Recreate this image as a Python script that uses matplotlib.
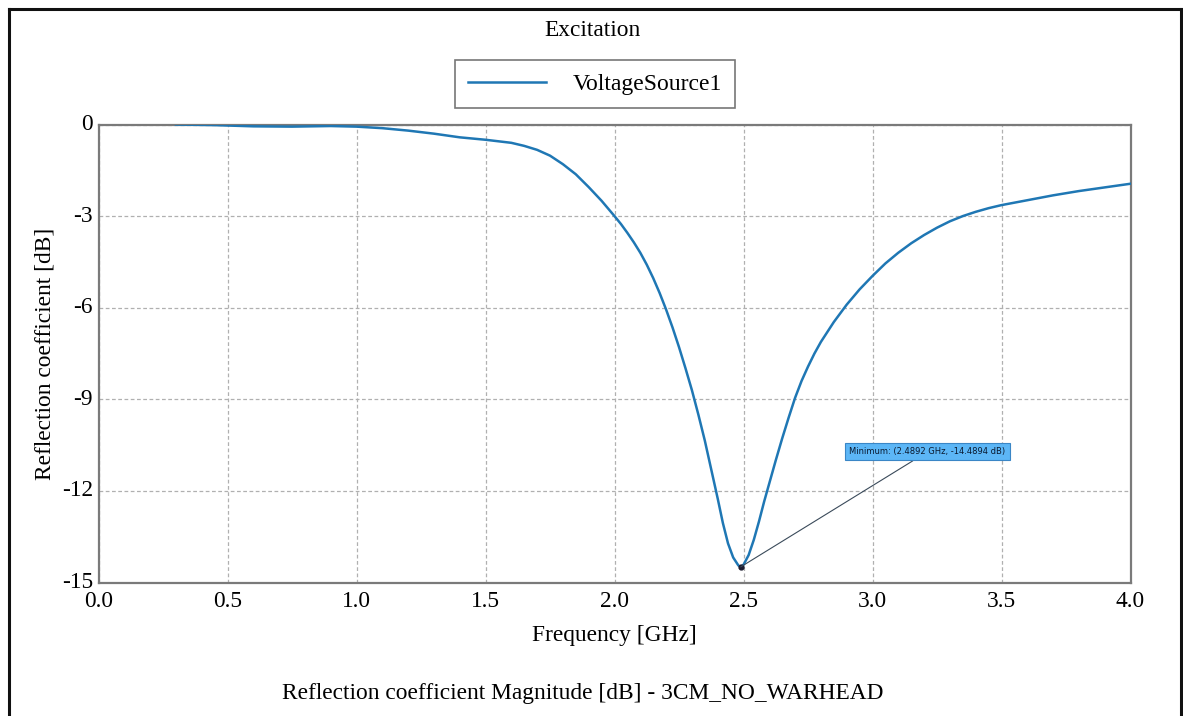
import matplotlib
matplotlib.use("Agg")
import matplotlib.pyplot as plt

# Reflection coefficient of VoltageSource1 (frequency in GHz, magnitude in dB)
freq_ghz = [0.30, 0.45, 0.60, 0.75, 0.90, 1.00, 1.10, 1.20, 1.30, 1.40,
            1.50, 1.60, 1.65, 1.70, 1.75, 1.80, 1.85, 1.90, 1.95, 2.00,
            2.025, 2.05, 2.075, 2.10, 2.125, 2.15, 2.175, 2.20, 2.225, 2.25,
            2.275, 2.30, 2.325, 2.35, 2.375, 2.40, 2.42, 2.44, 2.46, 2.48,
            2.4892, 2.50, 2.52, 2.54, 2.56, 2.58, 2.60, 2.625, 2.65, 2.675,
            2.70, 2.725, 2.75, 2.775, 2.80, 2.85, 2.90, 2.95, 3.00, 3.05,
            3.10, 3.15, 3.20, 3.25, 3.30, 3.35, 3.40, 3.45, 3.50, 3.60,
            3.70, 3.80, 3.90, 4.00]
s11_db = [0.00, -0.02, -0.06, -0.07, -0.05, -0.07, -0.12, -0.20, -0.30, -0.42,
          -0.50, -0.60, -0.70, -0.83, -1.02, -1.30, -1.63, -2.05, -2.50, -3.00,
          -3.26, -3.55, -3.86, -4.20, -4.59, -5.03, -5.52, -6.06, -6.65, -7.29,
          -7.98, -8.70, -9.50, -10.35, -11.30, -12.25, -13.05, -13.72, -14.18, -14.44,
          -14.4894, -14.42, -14.10, -13.60, -13.00, -12.35, -11.75, -11.00, -10.28, -9.60,
          -8.95, -8.40, -7.93, -7.50, -7.12, -6.47, -5.90, -5.40, -4.96, -4.55,
          -4.20, -3.89, -3.62, -3.38, -3.17, -3.00, -2.86, -2.74, -2.64, -2.48,
          -2.32, -2.18, -2.06, -1.94]

min_freq = 2.4892
min_db = -14.4894

x_ticks = [0.0, 0.5, 1.0, 1.5, 2.0, 2.5, 3.0, 3.5, 4.0]
x_tick_labels = ["0.0", "0.5", "1.0", "1.5", "2.0", "2.5", "3.0", "3.5", "4.0"]
y_ticks = [0, -3, -6, -9, -12, -15]
y_tick_labels = ["0", "-3", "-6", "-9", "-12", "-15"]

serif = "Liberation Serif"
fs = 16.8
line_color = "#1f77b4"
W, H = 1183, 716

fig = plt.figure(figsize=(W / 100, H / 100), dpi=100)
fig.patch.set_facecolor("white")

# outer frame (open at the bottom)
fx0, fx1, fy0 = 9 / W, 1181 / W, 1 - 9 / H
for xs, ys in (([fx0, fx1], [fy0, fy0]), ([fx0, fx0], [0, fy0]),
               ([fx1, fx1], [0, fy0])):
    fig.add_artist(plt.Line2D(xs, ys, color="#111111", lw=2.2,
                              transform=fig.transFigure))

# plotting area
ax_l, ax_r, ax_t, ax_b = 98.5, 1130.5, 124.5, 582.5
ax = fig.add_axes([ax_l / W, 1 - ax_b / H, (ax_r - ax_l) / W, (ax_b - ax_t) / H])
ax.set_xlim(0.0, 4.0)
ax.set_ylim(-15, 0)

ax.plot(freq_ghz, s11_db, color=line_color, lw=1.8, label="VoltageSource1",
        zorder=3, solid_joinstyle="round")

ax.set_xticks(x_ticks)
ax.set_xticklabels(x_tick_labels, fontfamily=serif, fontsize=fs)
ax.set_yticks(y_ticks)
ax.set_yticklabels(y_tick_labels, fontfamily=serif, fontsize=fs)
ax.tick_params(length=0)
ax.tick_params(axis="y", pad=4)
ax.tick_params(axis="x", pad=6)
for lab in ax.get_yticklabels():
    lab.set_verticalalignment("center")

ax.grid(True, color="#b0b0b0", linestyle=(0, (3, 2)), lw=0.9)
for s in ax.spines.values():
    s.set_color("#7a7a7a")
    s.set_linewidth(1.6)

ax.set_xlabel("Frequency [GHz]", fontfamily=serif, fontsize=fs, va="center")
ax.xaxis.set_label_coords(0.5, -(635 - ax_b) / (ax_b - ax_t))
ax.set_ylabel("Reflection coefficient [dB]", fontfamily=serif, fontsize=fs,
              va="center")
ax.yaxis.set_label_coords(-(ax_l - 45) / (ax_r - ax_l), 0.5)

# minimum marker with callout
ax.plot([min_freq], [min_db], marker="o", ms=3.5, color="#1a1a2e", zorder=4)
ax.annotate(f"Minimum: ({min_freq} GHz, {min_db} dB)",
            xy=(min_freq, min_db), xytext=(3.213, -10.72),
            fontsize=6.0, fontfamily="DejaVu Sans", color="#0a1a30",
            ha="center", va="center", zorder=5,
            bbox=dict(boxstyle="square,pad=0.5", fc="#5cb6f6", ec="#3a86c6",
                      lw=0.8),
            arrowprops=dict(arrowstyle="-", color="#3a4a5a", lw=0.8,
                            shrinkA=0, shrinkB=0))

# title and legend
fig.text(592 / W, 1 - 31 / H, "Excitation", ha="center", va="center",
         fontfamily=serif, fontsize=fs)
leg = fig.legend(loc="center", bbox_to_anchor=(595 / W, 1 - 84 / H),
                 prop={"family": serif, "size": 17}, frameon=True,
                 fancybox=False, handlelength=3.3, handletextpad=1.1,
                 borderpad=0.55, borderaxespad=0)
leg.get_frame().set_edgecolor("#555555")
leg.get_frame().set_linewidth(1.2)

fig.text(583 / W, 1 - 693 / H,
         "Reflection coefficient Magnitude [dB] - 3CM_NO_WARHEAD",
         ha="center", va="center", fontfamily=serif, fontsize=fs)

fig.savefig("out.png", dpi=100)
